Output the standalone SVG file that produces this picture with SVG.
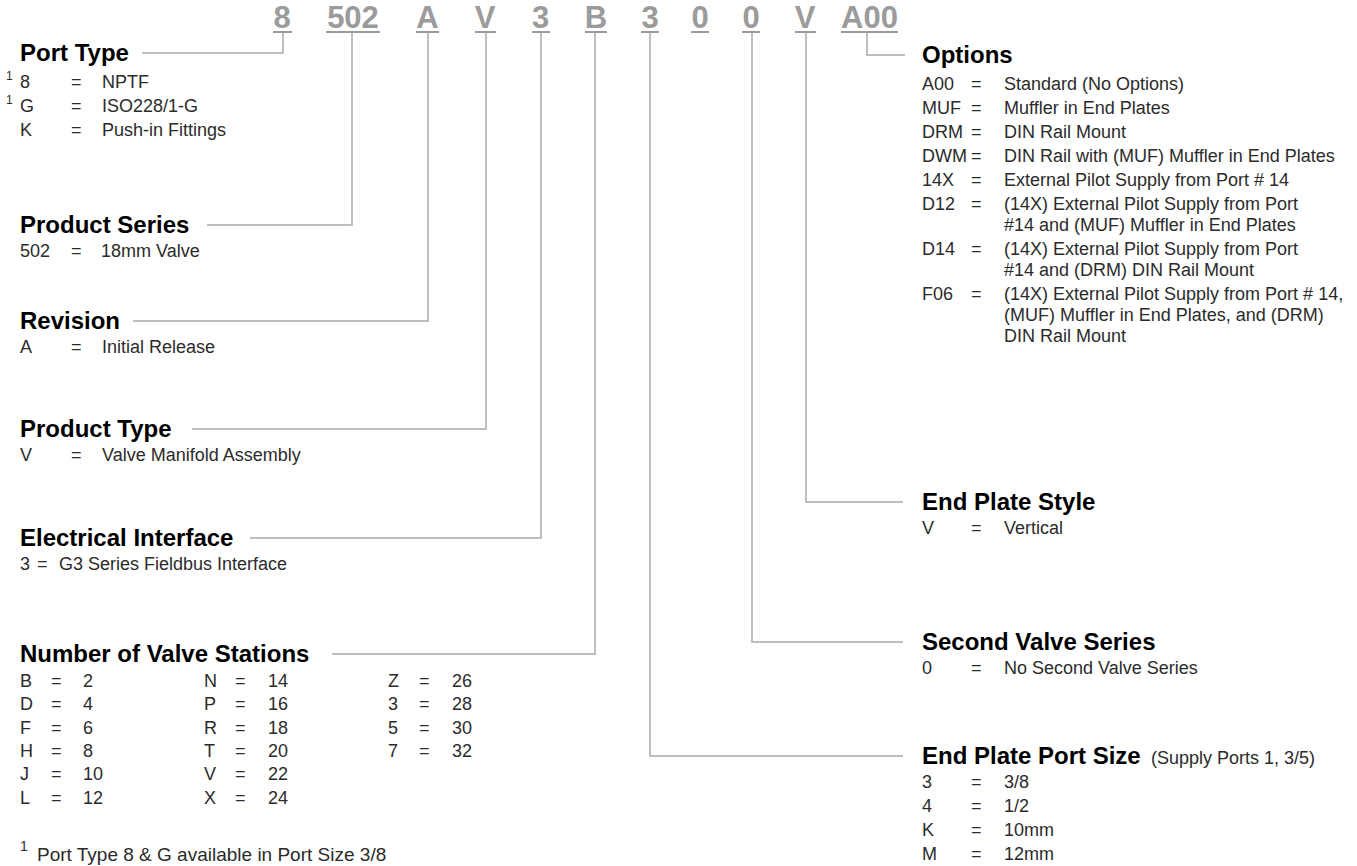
<svg xmlns="http://www.w3.org/2000/svg" width="1357" height="866" viewBox="0 0 1357 866">
<style>
.code{font-family:"Liberation Sans",Arial,sans-serif;font-weight:bold;font-size:31px;fill:#9b9b9b;text-anchor:middle}
.ul{fill:#9b9b9b}
.h{font-family:"Liberation Sans",Arial,sans-serif;font-weight:bold;font-size:24px;fill:#000}
.t{font-family:"Liberation Sans",Arial,sans-serif;font-size:18px;fill:#2b2b2b}
.sup{font-family:"Liberation Sans",Arial,sans-serif;font-size:12px;fill:#2b2b2b}
.fn{font-family:"Liberation Sans",Arial,sans-serif;font-size:19px;fill:#2b2b2b}
.conn{stroke:#ababab;stroke-width:1.5;fill:none}
</style>
<rect width="1357" height="866" fill="#fff"/>
<g id="code">
<text class="code" x="282" y="28">8</text><rect class="ul" x="273" y="31" width="19" height="2"/>
<text class="code" x="353" y="28">502</text><rect class="ul" x="326" y="31" width="54" height="2"/>
<text class="code" x="427.5" y="28">A</text><rect class="ul" x="416" y="31" width="23" height="2"/>
<text class="code" x="485" y="28">V</text><rect class="ul" x="475" y="31" width="21" height="2"/>
<text class="code" x="540.5" y="28">3</text><rect class="ul" x="532" y="31" width="18" height="2"/>
<text class="code" x="596" y="28">B</text><rect class="ul" x="585" y="31" width="22" height="2"/>
<text class="code" x="650" y="28">3</text><rect class="ul" x="641" y="31" width="18" height="2"/>
<text class="code" x="700" y="28">0</text><rect class="ul" x="691" y="31" width="18" height="2"/>
<text class="code" x="751" y="28">0</text><rect class="ul" x="742" y="31" width="18" height="2"/>
<text class="code" x="805" y="28">V</text><rect class="ul" x="795" y="31" width="21" height="2"/>
<text class="code" x="869.5" y="28">A00</text><rect class="ul" x="841" y="31" width="57" height="2"/>
</g>
<g id="connectors">
<path class="conn" d="M283 33V53H142"/>
<path class="conn" d="M352 33V225H207"/>
<path class="conn" d="M428 33V321H133"/>
<path class="conn" d="M486 33V429H192"/>
<path class="conn" d="M541 33V538H250"/>
<path class="conn" d="M595 33V654H332"/>
<path class="conn" d="M650 33V756H903"/>
<path class="conn" d="M752 33V642H903"/>
<path class="conn" d="M806 33V502H903"/>
<path class="conn" d="M867 33V55H905"/>
</g>
<g id="port-type">
<text class="h" x="20" y="61">Port Type</text>
<text class="sup" x="6" y="80">1</text>
<text class="t" x="20" y="88">8</text><text class="t" x="71" y="88">=</text><text class="t" x="102" y="88">NPTF</text>
<text class="sup" x="6" y="104">1</text>
<text class="t" x="20" y="112">G</text><text class="t" x="71" y="112">=</text><text class="t" x="102" y="112">ISO228/1-G</text>
<text class="t" x="20" y="136">K</text><text class="t" x="71" y="136">=</text><text class="t" x="102" y="136">Push-in Fittings</text>
</g>
<g id="product-series">
<text class="h" x="20" y="233">Product Series</text>
<text class="t" x="20" y="257">502</text><text class="t" x="71" y="257">=</text><text class="t" x="101" y="257">18mm Valve</text>
</g>
<g id="revision">
<text class="h" x="20" y="329">Revision</text>
<text class="t" x="20" y="353">A</text><text class="t" x="71" y="353">=</text><text class="t" x="102" y="353">Initial Release</text>
</g>
<g id="product-type">
<text class="h" x="20" y="437">Product Type</text>
<text class="t" x="20" y="461">V</text><text class="t" x="71" y="461">=</text><text class="t" x="102" y="461">Valve Manifold Assembly</text>
</g>
<g id="electrical-interface">
<text class="h" x="20" y="546">Electrical Interface</text>
<text class="t" x="20" y="570">3</text><text class="t" x="37" y="570">=</text><text class="t" x="59" y="570">G3 Series Fieldbus Interface</text>
</g>
<g id="valve-stations">
<text class="h" x="20" y="662">Number of Valve Stations</text>
<text class="t" x="20" y="687">B</text><text class="t" x="51" y="687">=</text><text class="t" x="83" y="687">2</text>
<text class="t" x="20" y="710">D</text><text class="t" x="51" y="710">=</text><text class="t" x="83" y="710">4</text>
<text class="t" x="20" y="734">F</text><text class="t" x="51" y="734">=</text><text class="t" x="83" y="734">6</text>
<text class="t" x="20" y="757">H</text><text class="t" x="51" y="757">=</text><text class="t" x="83" y="757">8</text>
<text class="t" x="20" y="780">J</text><text class="t" x="51" y="780">=</text><text class="t" x="83" y="780">10</text>
<text class="t" x="20" y="804">L</text><text class="t" x="51" y="804">=</text><text class="t" x="83" y="804">12</text>
<text class="t" x="204" y="687">N</text><text class="t" x="235" y="687">=</text><text class="t" x="268" y="687">14</text>
<text class="t" x="204" y="710">P</text><text class="t" x="235" y="710">=</text><text class="t" x="268" y="710">16</text>
<text class="t" x="204" y="734">R</text><text class="t" x="235" y="734">=</text><text class="t" x="268" y="734">18</text>
<text class="t" x="204" y="757">T</text><text class="t" x="235" y="757">=</text><text class="t" x="268" y="757">20</text>
<text class="t" x="204" y="780">V</text><text class="t" x="235" y="780">=</text><text class="t" x="268" y="780">22</text>
<text class="t" x="204" y="804">X</text><text class="t" x="235" y="804">=</text><text class="t" x="268" y="804">24</text>
<text class="t" x="388" y="687">Z</text><text class="t" x="419" y="687">=</text><text class="t" x="452" y="687">26</text>
<text class="t" x="388" y="710">3</text><text class="t" x="419" y="710">=</text><text class="t" x="452" y="710">28</text>
<text class="t" x="388" y="734">5</text><text class="t" x="419" y="734">=</text><text class="t" x="452" y="734">30</text>
<text class="t" x="388" y="757">7</text><text class="t" x="419" y="757">=</text><text class="t" x="452" y="757">32</text>
</g>
<g id="footnote">
<text class="sup" x="20" y="851" style="font-size:14px">1</text>
<text class="fn" x="37" y="861">Port Type 8 &amp; G available in Port Size 3/8</text>
</g>
<g id="options">
<text class="h" x="922" y="63">Options</text>
<text class="t" x="922" y="90">A00</text><text class="t" x="971" y="90">=</text><text class="t" x="1004" y="90">Standard (No Options)</text>
<text class="t" x="922" y="114">MUF</text><text class="t" x="971" y="114">=</text><text class="t" x="1004" y="114">Muffler in End Plates</text>
<text class="t" x="922" y="138">DRM</text><text class="t" x="971" y="138">=</text><text class="t" x="1004" y="138">DIN Rail Mount</text>
<text class="t" x="922" y="162">DWM</text><text class="t" x="971" y="162">=</text><text class="t" x="1004" y="162">DIN Rail with (MUF) Muffler in End Plates</text>
<text class="t" x="922" y="186">14X</text><text class="t" x="971" y="186">=</text><text class="t" x="1004" y="186">External Pilot Supply from Port # 14</text>
<text class="t" x="922" y="210">D12</text><text class="t" x="971" y="210">=</text><text class="t" x="1004" y="210">(14X) External Pilot Supply from Port</text>
<text class="t" x="1004" y="231">#14 and (MUF) Muffler in End Plates</text>
<text class="t" x="922" y="255">D14</text><text class="t" x="971" y="255">=</text><text class="t" x="1004" y="255">(14X) External Pilot Supply from Port</text>
<text class="t" x="1004" y="276">#14 and (DRM) DIN Rail Mount</text>
<text class="t" x="922" y="300">F06</text><text class="t" x="971" y="300">=</text><text class="t" x="1004" y="300">(14X) External Pilot Supply from Port # 14,</text>
<text class="t" x="1004" y="321">(MUF) Muffler in End Plates, and (DRM)</text>
<text class="t" x="1004" y="342">DIN Rail Mount</text>
</g>
<g id="end-plate-style">
<text class="h" x="922" y="510">End Plate Style</text>
<text class="t" x="922" y="534">V</text><text class="t" x="971" y="534">=</text><text class="t" x="1004" y="534">Vertical</text>
</g>
<g id="second-valve-series">
<text class="h" x="922" y="650">Second Valve Series</text>
<text class="t" x="922" y="674">0</text><text class="t" x="971" y="674">=</text><text class="t" x="1004" y="674">No Second Valve Series</text>
</g>
<g id="end-plate-port-size">
<text class="h" x="922" y="764">End Plate Port Size<tspan class="t" x="1151" style="font-weight:normal;font-size:18px">(Supply Ports 1, 3/5)</tspan></text>
<text class="t" x="922" y="788">3</text><text class="t" x="971" y="788">=</text><text class="t" x="1004" y="788">3/8</text>
<text class="t" x="922" y="812">4</text><text class="t" x="971" y="812">=</text><text class="t" x="1004" y="812">1/2</text>
<text class="t" x="922" y="836">K</text><text class="t" x="971" y="836">=</text><text class="t" x="1004" y="836">10mm</text>
<text class="t" x="922" y="860">M</text><text class="t" x="971" y="860">=</text><text class="t" x="1004" y="860">12mm</text>
</g>
</svg>
